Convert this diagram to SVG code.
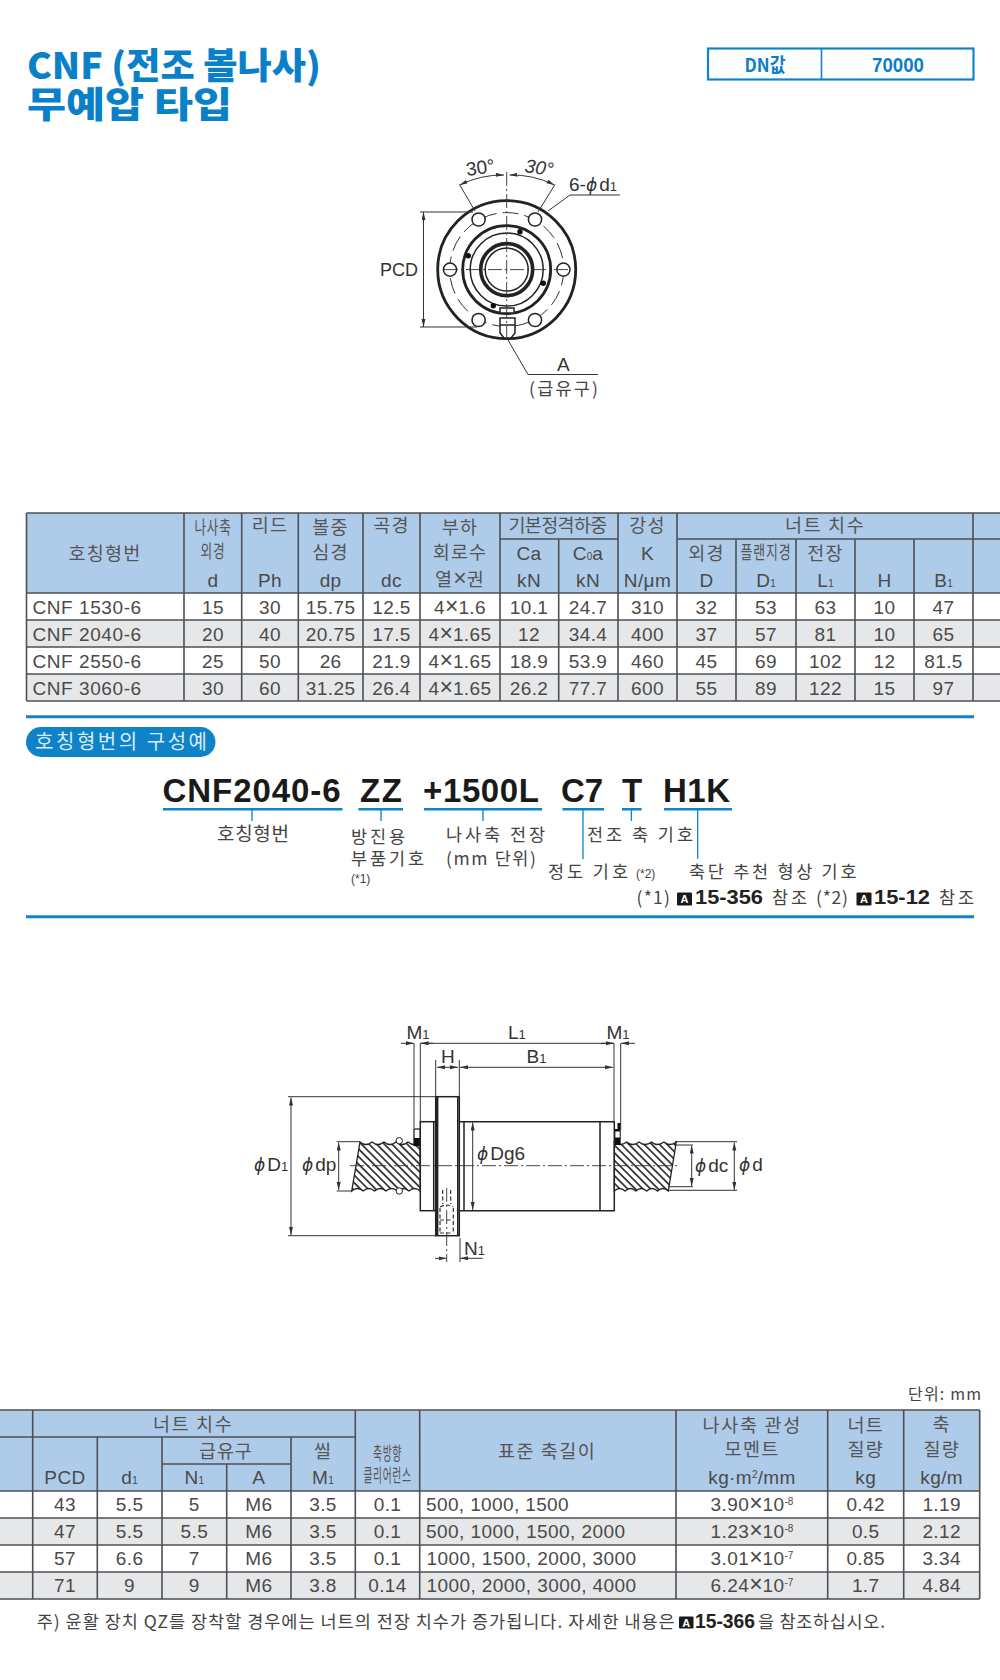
<svg xmlns="http://www.w3.org/2000/svg" width="1000" height="1680" viewBox="0 0 1000 1680">
<style>
.n{font-family:"Liberation Sans","Noto Sans CJK KR",sans-serif;font-size:19px;fill:#4a4a4a;text-anchor:middle;letter-spacing:.4px}
.k{font-family:"Noto Sans CJK KR","Liberation Sans",sans-serif;font-size:18.5px;fill:#555;text-anchor:middle;letter-spacing:1.2px}
.s{font-size:10px;letter-spacing:0}
.x{font-size:23px;letter-spacing:0}
.g{fill:none;stroke:#4d5054;stroke-width:1.6}
.lab{font-family:"Noto Sans CJK KR","Liberation Sans",sans-serif;font-size:17.5px;fill:#444}
.sm{font-family:"Liberation Sans",sans-serif;font-size:12px;fill:#444}
.b{font-family:"Liberation Sans",sans-serif;font-weight:700;fill:#222}
.code{font-family:"Liberation Sans",sans-serif;font-weight:700;font-size:33px;fill:#1a1a1a}
.ttl{font-family:"Noto Sans CJK KR","Liberation Sans",sans-serif;font-weight:900;font-size:36px;fill:#0a80c8}
.dim{font-family:"Liberation Sans","Noto Sans CJK KR",sans-serif;font-size:19px;fill:#333}
.dim2{font-size:13px}
.ph{font-family:"DejaVu Sans",sans-serif;font-style:italic;font-size:17px}
.t{fill:none;stroke:#333;stroke-width:1}
.d{fill:none;stroke:#333;stroke-width:1;marker-start:url(#ar);marker-end:url(#ar)}
.a1{fill:none;stroke:#333;stroke-width:1;marker-end:url(#ar)}
.m{fill:none;stroke:#222;stroke-width:1.5}
.h{fill:none;stroke:#222;stroke-width:2.8}
.c{fill:none;stroke:#333;stroke-width:.9;stroke-dasharray:14 3 2 3}
.ds{fill:none;stroke:#333;stroke-width:1;stroke-dasharray:16 6}
.ds2{fill:none;stroke:#333;stroke-width:1.2;stroke-dasharray:4 2.5}
.bl{fill:none;stroke:#0f83c8;stroke-width:2.5}
.st{fill:none;stroke:#0f83c8;stroke-width:1.3}
.ab{fill:#1a1a1a}
.at{font-family:"Liberation Sans",sans-serif;font-weight:700;font-size:11px;fill:#fff;text-anchor:middle}
</style>
<defs>
<marker id="ar" markerUnits="userSpaceOnUse" markerWidth="9" markerHeight="5" refX="8" refY="2" orient="auto-start-reverse"><path d="M0,0L8,2L0,4Z" fill="#333"/></marker>
<pattern id="hatch" patternUnits="userSpaceOnUse" width="8" height="5.4" patternTransform="rotate(45)"><rect width="8" height="5.4" fill="#fff"/><line x1="0" y1="2.7" x2="8" y2="2.7" stroke="#222" stroke-width="1.6"/></pattern>
</defs>
<rect width="1000" height="1680" fill="#fff"/>

<g id="title">
<text class="ttl" x="27" y="79" textLength="294" lengthAdjust="spacingAndGlyphs">CNF (전조  볼나사)</text>
<text class="ttl" x="27" y="118" textLength="205" lengthAdjust="spacingAndGlyphs">무예압 타입</text>
</g>
<g id="dn-box">
<rect x="708" y="48.5" width="265.5" height="31" fill="none" stroke="#0f83c8" stroke-width="2.2"/>
<line x1="821.5" y1="48" x2="821.5" y2="80" stroke="#0f83c8" stroke-width="1.6"/>
<text x="765" y="72" text-anchor="middle" textLength="41" lengthAdjust="spacingAndGlyphs" style="font-family:'Noto Sans CJK KR',sans-serif;font-weight:700;font-size:19px;fill:#0a80c8">DN값</text>
<text x="898" y="72" text-anchor="middle" textLength="52" lengthAdjust="spacingAndGlyphs" style="font-family:'Liberation Sans',sans-serif;font-weight:700;font-size:20px;fill:#0a80c8">70000</text>
</g>

<g id="front-view">
<circle class="h" cx="506.7" cy="269.6" r="69"/>
<circle class="ds" cx="506.7" cy="269.6" r="57"/>
<circle class="h" cx="506.7" cy="269.6" r="44"/>
<circle class="m" cx="506.7" cy="269.6" r="36.5"/>
<circle cx="506.7" cy="269.6" r="26" fill="none" stroke="#222" stroke-width="3.6"/>
<circle class="m" cx="506.7" cy="269.6" r="21.5"/>
<g fill="#fff" stroke="#222" stroke-width="1.5">
<circle cx="450" cy="269.6" r="6.6"/><circle cx="563.4" cy="269.6" r="6.6"/>
<circle cx="478.6" cy="219.5" r="6.6"/><circle cx="535" cy="219.5" r="6.6"/>
<circle cx="478.6" cy="320" r="6.6"/><circle cx="535" cy="320" r="6.6"/>
</g>
<g fill="#111"><circle cx="520" cy="231.7" r="2.7"/><circle cx="468.3" cy="255.7" r="2.7"/><circle cx="543.3" cy="283.3" r="2.7"/><circle cx="493.3" cy="305.7" r="2.7"/></g>
<rect x="500" y="308" width="14" height="5" fill="#fff" stroke="#222" stroke-width="1.5"/>
<path d="M500,318H515V333L511,338H504L500,333Z" fill="#fff" stroke="#222" stroke-width="1.5"/>
<path class="m" d="M500,325h15"/>
<path class="c" d="M506.7,172V340M444,269.6H570"/>
<path class="t" d="M420,212H473M420,327H477"/>
<path class="d" d="M423.5,212V327"/>
<path class="t" d="M459.5,184.5L475,211M555,184.5L538,212"/>
<path class="d" d="M459.8,185A96,96 0 0 1 504,175"/>
<path class="d" d="M554.5,185A96,96 0 0 0 509.5,175"/>
<path class="t" d="M548,211L570,195H620"/>
<path class="t" d="M508,340L528,374.5H598"/>
<text class="dim" x="380" y="276" textLength="38" lengthAdjust="spacingAndGlyphs">PCD</text>
<text class="dim" x="467" y="176" transform="rotate(-8 467 176)">30°</text>
<text class="dim" x="524" y="172" transform="rotate(8 524 172)" style="font-style:italic">30°</text>
<text class="dim" x="569" y="191">6-<tspan class="ph">ϕ</tspan><tspan dx="2">d</tspan><tspan class="dim2">1</tspan></text>
<text class="dim" x="557" y="371">A</text>
<text class="lab" x="529" y="395" textLength="69" lengthAdjust="spacing">(급유구)</text>
</g>

<g id="spec-table">
<rect x="26.5" y="513" width="973.5" height="80" fill="#aecbea"/>
<rect x="26.5" y="620" width="973.5" height="27" fill="#e6e7e9"/>
<rect x="26.5" y="674" width="973.5" height="27" fill="#e6e7e9"/>
<path class="g" d="M26.5,513H1000M26.5,593H1000M26.5,620H1000M26.5,647H1000M26.5,674H1000M26.5,701H1000M500,539H618M677,539H1000M26.5,513V701M184,513V701M241.7,513V701M298.3,513V701M363,513V701M420,513V701M500,513V701M558.7,539V701M618,513V701M677,513V701M736,539V701M796,539V701M855,539V701M914,539V701M973,513V701"/>
<text class="k" x="105" y="560" textLength="73">호칭형번</text>
<text class="k" x="213" y="534" textLength="37" lengthAdjust="spacingAndGlyphs">나사축</text>
<text class="k" x="213" y="558" textLength="25" lengthAdjust="spacingAndGlyphs">외경</text>
<text class="k" x="270" y="532">리드</text><text class="k" x="330.6" y="534">볼중</text><text class="k" x="330.6" y="559">심경</text>
<text class="k" x="391.5" y="532">곡경</text><text class="k" x="460" y="534">부하</text><text class="k" x="460" y="559">회로수</text><text class="k" x="460" y="586"><tspan>열</tspan><tspan class="x" style="font-family:'Liberation Sans'">×</tspan><tspan>권</tspan></text>
<text class="k" x="558.5" y="532" textLength="100">기본정격하중</text><text class="k" x="647.5" y="532">강성</text><text class="k" x="825" y="532" textLength="80">너트 치수</text>
<text class="k" x="706.5" y="560">외경</text><text class="k" x="766" y="559" textLength="51" lengthAdjust="spacingAndGlyphs">플랜지경</text><text class="k" x="825.5" y="560">전장</text>
<g class="hdr">
<text class="n" x="213" y="587">d</text><text class="n" x="270" y="587">Ph</text><text class="n" x="330.6" y="587">dp</text><text class="n" x="391.5" y="587">dc</text>
<text class="n" x="529" y="560">Ca</text><text class="n" x="588" y="560">C<tspan class="s">0</tspan>a</text><text class="n" x="647.5" y="560">K</text>
<text class="n" x="529" y="587">kN</text><text class="n" x="588" y="587">kN</text><text class="n" x="647.5" y="587">N/μm</text>
<text class="n" x="706.5" y="587">D</text><text class="n" x="766" y="587">D<tspan class="s">1</tspan></text><text class="n" x="825.5" y="587">L<tspan class="s">1</tspan></text><text class="n" x="884.5" y="587">H</text><text class="n" x="943.5" y="587">B<tspan class="s">1</tspan></text>
</g>
<g id="row-1"><text class="n" x="32.5" y="614" style="text-anchor:start" textLength="109">CNF 1530-6</text><text class="n" x="213" y="614">15</text><text class="n" x="270" y="614">30</text><text class="n" x="330.6" y="614">15.75</text><text class="n" x="391.5" y="614">12.5</text><text class="n" x="460" y="614">4<tspan class="x">×</tspan>1.6</text><text class="n" x="529" y="614">10.1</text><text class="n" x="588" y="614">24.7</text><text class="n" x="647.5" y="614">310</text><text class="n" x="706.5" y="614">32</text><text class="n" x="766" y="614">53</text><text class="n" x="825.5" y="614">63</text><text class="n" x="884.5" y="614">10</text><text class="n" x="943.5" y="614">47</text></g>
<g id="row-2"><text class="n" x="32.5" y="641" style="text-anchor:start" textLength="109">CNF 2040-6</text><text class="n" x="213" y="641">20</text><text class="n" x="270" y="641">40</text><text class="n" x="330.6" y="641">20.75</text><text class="n" x="391.5" y="641">17.5</text><text class="n" x="460" y="641">4<tspan class="x">×</tspan>1.65</text><text class="n" x="529" y="641">12</text><text class="n" x="588" y="641">34.4</text><text class="n" x="647.5" y="641">400</text><text class="n" x="706.5" y="641">37</text><text class="n" x="766" y="641">57</text><text class="n" x="825.5" y="641">81</text><text class="n" x="884.5" y="641">10</text><text class="n" x="943.5" y="641">65</text></g>
<g id="row-3"><text class="n" x="32.5" y="668" style="text-anchor:start" textLength="109">CNF 2550-6</text><text class="n" x="213" y="668">25</text><text class="n" x="270" y="668">50</text><text class="n" x="330.6" y="668">26</text><text class="n" x="391.5" y="668">21.9</text><text class="n" x="460" y="668">4<tspan class="x">×</tspan>1.65</text><text class="n" x="529" y="668">18.9</text><text class="n" x="588" y="668">53.9</text><text class="n" x="647.5" y="668">460</text><text class="n" x="706.5" y="668">45</text><text class="n" x="766" y="668">69</text><text class="n" x="825.5" y="668">102</text><text class="n" x="884.5" y="668">12</text><text class="n" x="943.5" y="668">81.5</text></g>
<g id="row-4"><text class="n" x="32.5" y="695" style="text-anchor:start" textLength="109">CNF 3060-6</text><text class="n" x="213" y="695">30</text><text class="n" x="270" y="695">60</text><text class="n" x="330.6" y="695">31.25</text><text class="n" x="391.5" y="695">26.4</text><text class="n" x="460" y="695">4<tspan class="x">×</tspan>1.65</text><text class="n" x="529" y="695">26.2</text><text class="n" x="588" y="695">77.7</text><text class="n" x="647.5" y="695">600</text><text class="n" x="706.5" y="695">55</text><text class="n" x="766" y="695">89</text><text class="n" x="825.5" y="695">122</text><text class="n" x="884.5" y="695">15</text><text class="n" x="943.5" y="695">97</text></g>
</g>

<g id="model-code">
<line x1="26" y1="716.8" x2="974" y2="716.8" stroke="#0f83c8" stroke-width="3"/>
<rect x="26" y="727" width="189.5" height="30" rx="15" fill="#0f83c8"/>
<text x="35" y="749" textLength="172" lengthAdjust="spacing" style="font-family:'Noto Sans CJK KR',sans-serif;font-size:20px;fill:#dbeaf6">호칭형번의 구성예</text>
<text class="code" x="162.6" y="802" textLength="178" lengthAdjust="spacing">CNF2040-6</text>
<text class="code" x="360" y="802" textLength="42" lengthAdjust="spacing">ZZ</text>
<text class="code" x="423" y="802" textLength="116" lengthAdjust="spacing">+1500L</text>
<text class="code" x="561" y="802" textLength="42" lengthAdjust="spacing">C7</text>
<text class="code" x="622" y="802" textLength="18" lengthAdjust="spacing">T</text>
<text class="code" x="663" y="802" textLength="67" lengthAdjust="spacing">H1K</text>
<path class="bl" d="M163,809.3H342.5M358.4,809.3H403M424,809.3H542M562.5,809.3H604M622,809.3H641.6M664,809.3H732"/>
<path class="st" d="M252,809V821M381,809V821M483,809V821M583,809V859M631.4,809V821M697.7,809V859"/>
<text class="lab" x="217" y="841" textLength="72" style="font-size:19px">호칭형번</text>
<text class="lab" x="351" y="843" textLength="54">방진용</text>
<text class="lab" x="351" y="865" textLength="73">부품기호</text>
<text class="sm" x="351" y="883">(*1)</text>
<text class="lab" x="446" y="841" textLength="99">나사축 전장</text>
<text class="lab" x="446" y="865" textLength="90">(mm 단위)</text>
<text class="lab" x="587" y="841" textLength="106">전조 축 기호</text>
<text class="lab" x="548" y="878" textLength="80">정도 기호</text>
<text class="sm" x="636" y="878">(*2)</text>
<text class="lab" x="689" y="878" textLength="167.5">축단 추천 형상 기호</text>
<text class="lab" x="636.5" y="904" textLength="33.5">(*1)</text>
<rect class="ab" x="677" y="892.5" width="15" height="13" rx="1"/><text class="at" x="684.5" y="903">A</text>
<text class="b" x="695" y="904" font-size="21" textLength="68" lengthAdjust="spacingAndGlyphs">15-356</text>
<text class="lab" x="772" y="904" textLength="35">참조</text>
<text class="lab" x="816" y="904" textLength="32">(*2)</text>
<rect class="ab" x="856.5" y="892.5" width="15" height="13" rx="1"/><text class="at" x="864" y="903">A</text>
<text class="b" x="874" y="904" font-size="21" textLength="56" lengthAdjust="spacingAndGlyphs">15-12</text>
<text class="lab" x="939" y="904" textLength="35">참조</text>
<line x1="26" y1="916.8" x2="974" y2="916.8" stroke="#0f83c8" stroke-width="3"/>
</g>

<g id="side-view">
<path d="M360,1142q6,5 12,0q6,5 12,0q6,5 12,0q6,5 12,0q6,5 12,0L420.3,1191q-5.7,-5 -11.43,0q-5.7,-5 -11.43,0q-5.7,-5 -11.43,0q-5.7,-5 -11.43,0q-5.7,-5 -11.43,0q-5.7,-5 -11.43,0Z" fill="url(#hatch)" stroke="#222" stroke-width="1.3"/>
<path d="M614.3,1142q6,5 12.4,0q6,5 12.4,0q6,5 12.4,0q6,5 12.4,0q6,5 12.4,0L668.3,1191q-5.4,-5 -10.8,0q-5.4,-5 -10.8,0q-5.4,-5 -10.8,0q-5.4,-5 -10.8,0q-5.4,-5 -10.8,0Z" fill="url(#hatch)" stroke="#222" stroke-width="1.3"/>
<circle cx="399.3" cy="1140.7" r="3.2" fill="#fff" stroke="#222"/><circle cx="399.3" cy="1191" r="3.2" fill="#fff" stroke="#222"/>
<rect x="414" y="1129" width="6.3" height="16.5" fill="#fff" stroke="#222" stroke-width="1.3"/><rect x="414" y="1138" width="6.3" height="8" fill="#111"/>
<rect x="614.3" y="1123" width="6.4" height="22" fill="#111"/><rect x="615.3" y="1131.5" width="4.4" height="6" fill="#fff"/><rect x="615" y="1123" width="2.5" height="6" fill="#fff"/>
<rect class="m" x="420.3" y="1121.7" width="15.4" height="89"/>
<line class="m" x1="433.7" y1="1121.7" x2="433.7" y2="1210.7"/>
<rect x="435.7" y="1096.7" width="23.6" height="139" fill="#fff" stroke="#222" stroke-width="1.5"/>
<path d="M437,1097V1235.5" stroke="#222" stroke-width="2.8" fill="none"/>
<path d="M457.8,1097V1235.5" stroke="#222" stroke-width="1.6" fill="none"/>
<path class="m" d="M459.3,1121.7H614.3V1210.7H459.3M464,1121.7V1210.7M600,1121.7V1210.7"/>
<path class="c" d="M350,1165.7H678"/>
<path class="ds2" d="M442.7,1190V1204M450.7,1190V1204M440,1208V1233M453.3,1208V1233M440,1207Q447,1203 453.3,1207M440,1220H453.3M440,1233H453.3"/>
<path class="c" d="M446.7,1188V1262"/>
<path class="t" d="M414,1043.3V1128M420.3,1043.3V1122M614,1043.3V1123M620.7,1043.3V1130M420.3,1043.3H614"/>
<path class="a1" d="M401,1043.3H414"/><path class="a1" d="M433,1043.3H420.6"/><path class="a1" d="M601,1043.3H613.8"/><path class="a1" d="M635,1043.3H621"/>
<path class="t" d="M435.7,1060V1097M459.3,1060V1097"/>
<path class="d" d="M437,1067.3H458"/><path class="d" d="M460,1067.3H613"/>
<path class="t" d="M288,1096.7H436M288,1235.7H436"/><path class="d" d="M291,1097.5V1235"/>
<path class="t" d="M336.7,1141.7H360M336.7,1191H352"/><path class="d" d="M338.7,1142.5V1190"/>
<path class="d" d="M472.7,1122.5V1210"/>
<path class="t" d="M460,1238V1262"/>
<path class="a1" d="M435,1258.3H446.5"/><path class="a1" d="M482.7,1258.3H460.2"/>
<path class="t" d="M675,1141.7H737M668,1190.3H737M674,1145H693M668,1186.7H693"/>
<path class="d" d="M691.7,1145.5V1186"/><path class="d" d="M734.3,1142.5V1190"/>
<text class="dim" x="406.5" y="1039">M<tspan class="dim2">1</tspan></text>
<text class="dim" x="508" y="1039">L<tspan class="dim2">1</tspan></text>
<text class="dim" x="606.5" y="1039">M<tspan class="dim2">1</tspan></text>
<text class="dim" x="441" y="1063">H</text>
<text class="dim" x="526.5" y="1063">B<tspan class="dim2">1</tspan></text>
<text class="dim" x="254" y="1171"><tspan class="ph">ϕ</tspan><tspan dx="2">D</tspan><tspan class="dim2">1</tspan></text>
<text class="dim" x="302" y="1171"><tspan class="ph">ϕ</tspan><tspan dx="2">dp</tspan></text>
<text class="dim" x="477" y="1160"><tspan class="ph">ϕ</tspan><tspan dx="2">Dg6</tspan></text>
<text class="dim" x="695" y="1171.5"><tspan class="ph">ϕ</tspan><tspan dx="2">dc</tspan></text>
<text class="dim" x="739" y="1171"><tspan class="ph">ϕ</tspan><tspan dx="2">d</tspan></text>
<text class="dim" x="464" y="1255">N<tspan class="dim2">1</tspan></text>
</g>

<g id="unit"><text class="lab" x="908" y="1400" textLength="73" style="font-size:16px">단위: mm</text></g>

<g id="size-table">
<rect x="0" y="1410" width="979.7" height="81" fill="#aecbea"/>
<rect x="0" y="1518" width="979.7" height="27" fill="#e6e7e9"/>
<rect x="0" y="1572" width="979.7" height="27" fill="#e6e7e9"/>
<path class="g" d="M0,1410H979.7M0,1491H979.7M0,1518H979.7M0,1545H979.7M0,1572H979.7M0,1599H979.7M0,1437H355.3M162,1464H291M32.7,1410V1599M97.3,1437V1599M162,1437V1599M226.7,1464V1599M291,1437V1599M355.3,1410V1599M419.7,1410V1599M676,1410V1599M827.7,1410V1599M903.7,1410V1599M979.7,1410V1599"/>
<text class="k" x="193" y="1431" textLength="80">너트 치수</text>
<text class="k" x="226" y="1458" textLength="54">급유구</text>
<text class="k" x="323" y="1458">씰</text>
<text class="k" x="387.5" y="1460" textLength="29" lengthAdjust="spacingAndGlyphs">축방향</text>
<text class="k" x="387.5" y="1482" textLength="48" lengthAdjust="spacingAndGlyphs">클리어런스</text>
<text class="k" x="547" y="1458" textLength="98">표준 축길이</text>
<text class="k" x="752" y="1432" textLength="99">나사축 관성</text>
<text class="k" x="752" y="1456" textLength="55">모멘트</text>
<text class="k" x="865.7" y="1432">너트</text><text class="k" x="865.7" y="1456">질량</text>
<text class="k" x="941.7" y="1431">축</text><text class="k" x="941.7" y="1456">질량</text>
<text class="n" x="65" y="1484">PCD</text><text class="n" x="129.6" y="1484">d<tspan class="s">1</tspan></text><text class="n" x="194.3" y="1484">N<tspan class="s">1</tspan></text><text class="n" x="258.8" y="1484">A</text><text class="n" x="323" y="1484">M<tspan class="s">1</tspan></text>
<text class="n" x="752" y="1484">kg·m<tspan class="s" dy="-6">2</tspan><tspan dy="6">/mm</tspan></text><text class="n" x="865.7" y="1484">kg</text><text class="n" x="941.7" y="1484">kg/m</text>
<g id="size-1"><text class="n" x="65" y="1511">43</text><text class="n" x="129.6" y="1511">5.5</text><text class="n" x="194.3" y="1511">5</text><text class="n" x="258.8" y="1511">M6</text><text class="n" x="323" y="1511">3.5</text><text class="n" x="387.5" y="1511">0.1</text><text class="n" x="426" y="1511" style="text-anchor:start" textLength="143">500, 1000, 1500</text><text class="n" x="752" y="1511">3.90<tspan class="x">×</tspan>10<tspan class="s" dy="-6">-8</tspan></text><text class="n" x="865.7" y="1511">0.42</text><text class="n" x="941.7" y="1511">1.19</text></g>
<g id="size-2"><text class="n" x="65" y="1538">47</text><text class="n" x="129.6" y="1538">5.5</text><text class="n" x="194.3" y="1538">5.5</text><text class="n" x="258.8" y="1538">M6</text><text class="n" x="323" y="1538">3.5</text><text class="n" x="387.5" y="1538">0.1</text><text class="n" x="426" y="1538" style="text-anchor:start" textLength="199.5">500, 1000, 1500, 2000</text><text class="n" x="752" y="1538">1.23<tspan class="x">×</tspan>10<tspan class="s" dy="-6">-8</tspan></text><text class="n" x="865.7" y="1538">0.5</text><text class="n" x="941.7" y="1538">2.12</text></g>
<g id="size-3"><text class="n" x="65" y="1565">57</text><text class="n" x="129.6" y="1565">6.6</text><text class="n" x="194.3" y="1565">7</text><text class="n" x="258.8" y="1565">M6</text><text class="n" x="323" y="1565">3.5</text><text class="n" x="387.5" y="1565">0.1</text><text class="n" x="426.5" y="1565" style="text-anchor:start" textLength="210">1000, 1500, 2000, 3000</text><text class="n" x="752" y="1565">3.01<tspan class="x">×</tspan>10<tspan class="s" dy="-6">-7</tspan></text><text class="n" x="865.7" y="1565">0.85</text><text class="n" x="941.7" y="1565">3.34</text></g>
<g id="size-4"><text class="n" x="65" y="1592">71</text><text class="n" x="129.6" y="1592">9</text><text class="n" x="194.3" y="1592">9</text><text class="n" x="258.8" y="1592">M6</text><text class="n" x="323" y="1592">3.8</text><text class="n" x="387.5" y="1592">0.14</text><text class="n" x="426.5" y="1592" style="text-anchor:start" textLength="210">1000, 2000, 3000, 4000</text><text class="n" x="752" y="1592">6.24<tspan class="x">×</tspan>10<tspan class="s" dy="-6">-7</tspan></text><text class="n" x="865.7" y="1592">1.7</text><text class="n" x="941.7" y="1592">4.84</text></g>
</g>

<g id="note">
<text class="lab" x="36.7" y="1628" textLength="638">주) 윤활 장치 QZ를 장착할 경우에는 너트의 전장 치수가 증가됩니다. 자세한 내용은</text>
<rect class="ab" x="679" y="1616.5" width="14.5" height="12" rx="1"/><text class="at" x="686.2" y="1627">A</text>
<text class="b" x="695" y="1628" font-size="20" textLength="60" lengthAdjust="spacingAndGlyphs">15-366</text>
<text class="lab" x="758" y="1628" textLength="127">을 참조하십시오.</text>
</g>
</svg>
